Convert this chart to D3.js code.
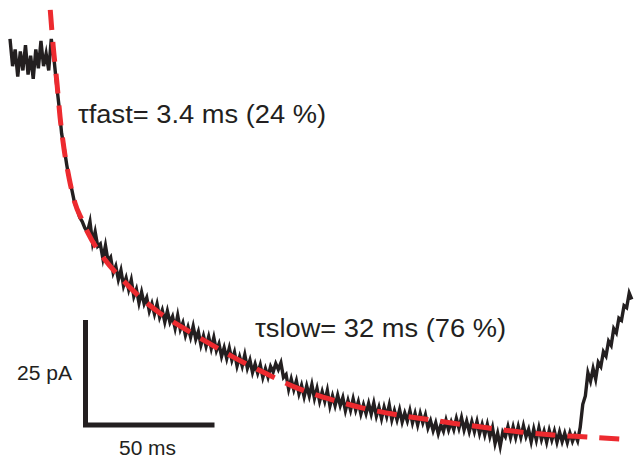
<!DOCTYPE html>
<html>
<head>
<meta charset="utf-8">
<script src="https://cdn.jsdelivr.net/npm/d3@7"></script>
<style>
  body { margin: 0; background: #fff; }
  svg text { font-family: "Liberation Sans", Arial, Helvetica, sans-serif; fill: #231f20; }
</style>
</head>
<body>
<div id="chart"></div>
<script>
// recorded current, one sample per ms (pA, baseline of fit = 0)
const traceStep = 1;
const traceValues = [
  95.5, 89, 93, 86.5, 92.5, 88, 94, 87, 91.5, 86, 93, 88.5, 95, 89, 92, 88, 95.5,
  91, 85, 79.5, 73, 69.5, 65.5, 62, 59.5, 56.5, 55, 53, 52, 50.5, 49.5,
  52.0, 47.0, 49.6, 46.1, 46.7, 43.2, 46.3, 42.6, 43.5, 39.8,
  41.4, 38.2, 40.4, 36.7, 38.6, 35.8, 38.1, 34.2, 35.9, 32.6,
  35.2, 32.4, 33.9, 30.7, 32.5, 30.0, 32.4, 29.2, 30.9, 28.1,
  30.7, 28.0, 29.4, 26.6, 29.7, 26.3, 27.9, 24.9, 26.9, 24.5,
  27.1, 24.0, 25.8, 22.6, 24.8, 22.3, 24.6, 21.8, 24.4, 21.3,
  22.9, 19.9, 22.0, 19.4, 21.9, 19.0, 20.9, 17.6, 19.8, 17.6,
  20.3, 17.1, 19.0, 16.1, 18.1, 15.9, 17.9, 14.9, 17.0, 15.0,
  17.5, 16.2, 18.2, 16.8, 18.4, 14.9, 15.6, 12.1, 14.5, 12.0,
  14.1, 11.0, 13.0, 10.3, 12.9, 10.5, 13.2, 9.9, 12.3, 9.2,
  11.5, 9.2, 11.8, 8.1, 10.5, 8.2, 10.7, 8.2, 10.1, 7.0,
  9.4, 7.1, 9.8, 7.1, 9.1, 6.2, 8.4, 6.3, 8.7, 6.2,
  8.8, 5.7, 7.8, 5.1, 7.8, 5.6, 8.3, 4.8, 7.0, 4.8,
  7.2, 4.3, 6.4, 4.5, 7.0, 4.1, 6.3, 3.6, 6.3, 4.1,
  6.0, 2.9, 4.6, 2.2, 4.1, 1.5, 3.6, 2.1, 4.7, 2.4,
  4.3, 2.5, 5.1, 2.8, 5.3, 2.4, 4.5, 2.0, 4.4, 2.0,
  4.4, 1.5, 3.7, 1.2, 3.7, 0.8, 3.0, -0.8, 1.6, -1.5,
  1.9, 0.8, 3.2, 0.6, 3.1, 0.6, 3.2, 0.7, 3.4, 0.8,
  2.5, -0.4, 2.6, 0.0, 2.9, 0.1, 2.1, -0.5, 2.3, 0.0,
  2.1, -0.5, 1.9, -0.4, 1.6, -0.6, 1.7, -0.3, 1.3, -0.2,
  3.0, 8.5, 10.5, 16.0, 14.0, 17.0, 14.5, 18.5, 17.5, 21.0,
  20.0, 23.5, 22.5, 26.5, 25.5, 29.0, 28.5, 32.0, 31.5, 35.0, 33.5
];

// bi-exponential fit (ms, pA)
const fitTime = [15.6, 16.7, 18.2, 19.4, 20.9, 22.9, 25.2, 27.9, 30.2, 36.8, 42.6, 50.4, 58.1,
  67.1, 73.6, 86.4, 99.6, 112.4, 125.2, 136.8, 150, 162.8, 171.7, 184.9, 197.7, 210.5, 223.6, 236.4];
const fitValue = [102.4, 94.0, 85.0, 76.9, 69.5, 62.4, 56.4, 52.4, 49.3, 42.9, 38.8, 34.0, 30.2,
  26.7, 24.3, 19.8, 15.7, 12.1, 9.5, 7.6, 6.0, 4.8, 4.0, 2.9, 1.9, 1.2, 0.7, 0.2];

const labels = ["τfast= 3.4 ms (24 %)", "τslow= 32 ms (76 %)"];
const scaleBarTime = 50;   // ms
const scaleBarCurrent = 25; // pA

const width = 642, height = 464;
const ink = "#231f20", red = "#ed2a2f";

const svg = d3.select("#chart").append("svg")
    .attr("width", width)
    .attr("height", height);

const x = d3.scaleLinear().domain([0, 241]).range([10, 631.8]);
const y = d3.scaleLinear().domain([0, 25]).range([440, 335]);

const trace = traceValues.map((v, i) => ({ t: i * traceStep, v: v }));
const fit = fitTime.map((t, i) => ({ t: t, v: fitValue[i] }));

// noisy trace, sharp joins give the spiky look
svg.append("path")
    .datum(trace)
    .attr("fill", "none")
    .attr("stroke", ink)
    .attr("stroke-width", 3.4)
    .attr("stroke-linejoin", "miter")
    .attr("stroke-miterlimit", 6)
    .attr("d", d3.line().x(d => x(d.t)).y(d => y(d.v)));

// fit, dashed on top
svg.append("path")
    .datum(fit)
    .attr("fill", "none")
    .attr("stroke", red)
    .attr("stroke-width", 5)
    .attr("stroke-dasharray", "20 12")
    .attr("d", d3.line().curve(d3.curveMonotoneX).x(d => x(d.t)).y(d => y(d.v)));

// scale bars
const bx = 85.5, by = 425;
svg.append("path")
    .attr("fill", "none")
    .attr("stroke", ink)
    .attr("stroke-width", 5)
    .attr("stroke-linejoin", "miter")
    .attr("d", "M" + bx + "," + (by - (y(0) - y(scaleBarCurrent)))
      + "V" + by + "H" + (bx + x(scaleBarTime) - x(0)));

svg.append("text")
    .attr("x", 17).attr("y", 380)
    .attr("textLength", 55).attr("lengthAdjust", "spacingAndGlyphs")
    .style("font-size", "20px")
    .text(scaleBarCurrent + " pA");

svg.append("text")
    .attr("x", 119).attr("y", 455)
    .attr("textLength", 57).attr("lengthAdjust", "spacingAndGlyphs")
    .style("font-size", "20px")
    .text(scaleBarTime + " ms");

// time constants
svg.append("text")
    .attr("x", 78).attr("y", 123)
    .attr("textLength", 248).attr("lengthAdjust", "spacingAndGlyphs")
    .style("font-size", "25px")
    .text(labels[0]);

svg.append("text")
    .attr("x", 255).attr("y", 337)
    .attr("textLength", 251).attr("lengthAdjust", "spacingAndGlyphs")
    .style("font-size", "25px")
    .text(labels[1]);
</script>
</body>
</html>
